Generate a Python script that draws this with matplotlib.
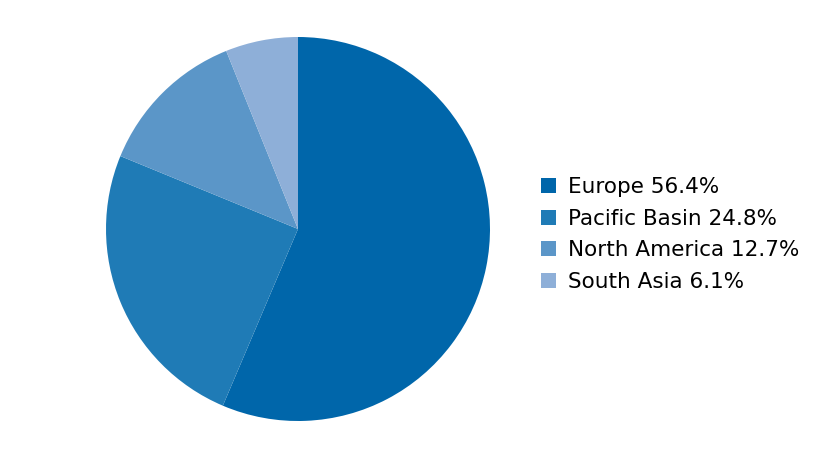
import matplotlib
matplotlib.use("Agg")
import matplotlib.pyplot as plt
from matplotlib.patches import Patch

regions = ["Europe", "Pacific Basin", "North America", "South Asia"]
shares = [56.4, 24.8, 12.7, 6.1]
colors = ["#0066aa", "#1f7bb6", "#5b96c8", "#8eafd8"]

fig = plt.figure(figsize=(8.4, 4.68), dpi=100)
cx, cy, r = 298, 468 - 229, 192
ax = fig.add_axes([(cx - r) / 840, (cy - r) / 468, 2 * r / 840, 2 * r / 468])
ax.pie(shares, colors=colors, startangle=90, counterclock=False, radius=1,
       wedgeprops=dict(linewidth=0))
ax.set_xlim(-1, 1)
ax.set_ylim(-1, 1)
ax.set_aspect("equal")
ax.axis("off")

handles = [Patch(facecolor=c, edgecolor="none") for c in colors]
labels = [f"{n} {v:.1f}%" for n, v in zip(regions, shares)]
fig.legend(handles, labels, loc="center left", bbox_to_anchor=(541 / 840, 1 - 234.5 / 468),
           frameon=False, fontsize=15.5, handlelength=0.7, handleheight=0.7,
           handletextpad=0.55, labelspacing=0.53, borderaxespad=0, borderpad=0)
fig.savefig("out.png", dpi=100)
